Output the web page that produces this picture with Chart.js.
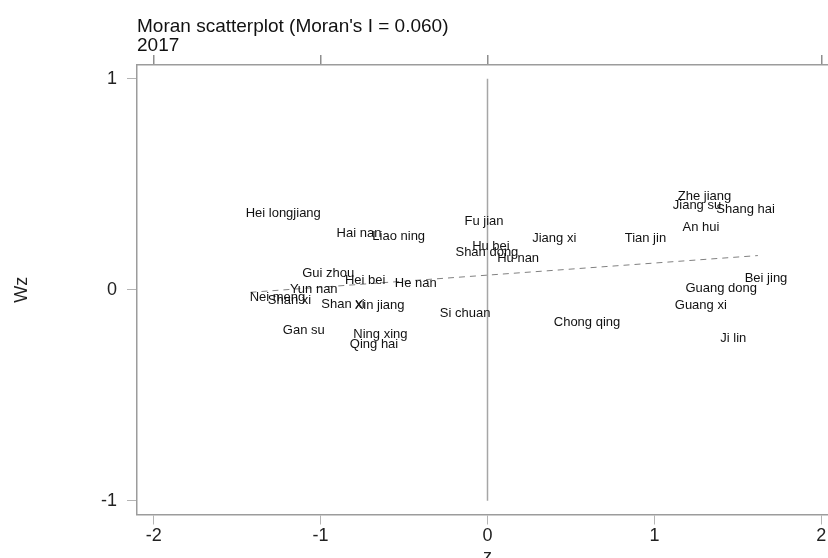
<!DOCTYPE html>
<html>
<head>
<meta charset="utf-8">
<script src="https://cdn.jsdelivr.net/npm/chart.js@4/dist/chart.umd.min.js"></script>
<style>
  html, body { margin: 0; padding: 0; background: #fff; }
  #wrap { width: 828px; height: 558px; overflow: hidden; position: relative; }
  canvas { display: block; }
</style>
</head>
<body>
<div id="wrap"><canvas id="c" width="840" height="575"></canvas></div>
<script>
// ---- data ----
const provinces = [
  "Hei longjiang", "Hai nan", "Liao ning", "Gui zhou", "Hei bei", "He nan",
  "Yun nan", "Nei meng", "Shan xi", "Shan xi", "Xin jiang", "Gan su",
  "Ning xing", "Qing hai", "Si chuan", "Fu jian", "Hu bei", "Shan dong",
  "Hu nan", "Jiang xi", "Tian jin", "Chong qing", "Zhe jiang", "Jiang su",
  "Shang hai", "An hui", "Bei jing", "Guang dong", "Guang xi", "Ji lin"
];
const zValues = [
  -1.449, -0.904, -0.690, -1.110, -0.854, -0.555,
  -1.184, -1.425, -1.316, -0.996, -0.796, -1.226,
  -0.804, -0.825, -0.286, -0.138, -0.092, -0.192,
   0.058,  0.268,  0.822,  0.397,  1.140,  1.110,
   1.371,  1.169,  1.541,  1.186,  1.122,  1.395
];
const wzValues = [
   0.362,  0.267,  0.252,  0.076,  0.044,  0.032,
   0.003, -0.035, -0.052, -0.071, -0.075, -0.195,
  -0.210, -0.257, -0.111,  0.322,  0.206,  0.178,
   0.148,  0.241,  0.241, -0.156,  0.441,  0.400,
   0.381,  0.294,  0.052,  0.005, -0.076, -0.230
];
const fitLineZ = [-1.42, 1.62];
const fitLineWz = [-0.012, 0.162];
const refLineZ = [0, 0];
const refLineWz = [-1, 1];
const xTickValues = [-2, -1, 0, 1, 2];
const yTickValues = [-1, 0, 1];
const topHiddenTicks = [1];
const titleLines = ["Moran scatterplot (Moran's I = 0.060)", "2017"];
const xTitle = "z";
const yTitle = "Wz";

// ---- chart ----
const FONT = "'Liberation Sans', Arial, Helvetica, sans-serif";
const toPts = (xs, ys) => xs.map((x, i) => ({ x: x, y: ys[i] }));

const labelPlugin = {
  id: 'pointLabels',
  afterDatasetsDraw(chart) {
    const meta = chart.getDatasetMeta(0);
    const ctx = chart.ctx;
    ctx.save();
    ctx.font = "13px " + FONT;
    ctx.fillStyle = '#111';
    ctx.textAlign = 'left';
    ctx.textBaseline = 'middle';
    meta.data.forEach((el, i) => {
      ctx.fillText(provinces[i], el.x, el.y);
    });
    ctx.restore();
  }
};

const frameColor = '#9c9c9c';
const tickColor = '#b4b4b4';

new Chart(document.getElementById('c'), {
  type: 'scatter',
  data: {
    datasets: [
      {
        label: 'provinces',
        data: toPts(zValues, wzValues),
        pointRadius: 0,
        pointHoverRadius: 0,
        showLine: false
      },
      {
        label: 'fit',
        data: toPts(fitLineZ, fitLineWz),
        showLine: true,
        pointRadius: 0,
        borderColor: '#808080',
        borderWidth: 1,
        borderDash: [6, 5]
      },
      {
        label: 'zero',
        data: toPts(refLineZ, refLineWz),
        showLine: true,
        pointRadius: 0,
        borderColor: '#a6a6a6',
        borderWidth: 1.5
      }
    ]
  },
  options: {
    responsive: false,
    animation: false,
    events: [],
    layout: { padding: { left: 0, right: 2, top: 0, bottom: 0 } },
    plugins: {
      legend: { display: false },
      tooltip: { enabled: false },
      title: {
        display: true,
        text: titleLines,
        align: 'start',
        fullSize: false,
        color: '#111',
        font: { family: FONT, size: 19, weight: 'normal', lineHeight: 1.0 },
        padding: { top: 17, bottom: 0 }
      }
    },
    scales: {
      x: {
        type: 'linear',
        position: 'bottom',
        min: -2.1,
        max: 2.1,
        afterBuildTicks(scale) { scale.ticks = xTickValues.map(v => ({ value: v })); },
        ticks: {
          color: '#222',
          font: { family: FONT, size: 18 },
          padding: 1,
          maxRotation: 0,
          callback: v => String(v)
        },
        grid: { drawOnChartArea: false, drawTicks: true, tickLength: 10, color: tickColor, lineWidth: 1 },
        border: { display: true, color: frameColor, width: 1.5 },
        title: {
          display: true,
          text: xTitle,
          color: '#222',
          font: { family: FONT, size: 18 },
          padding: { top: 0, bottom: 7 }
        },
        afterFit(scale) { scale.height = 60.5; }
      },
      x2: {
        type: 'linear',
        position: 'top',
        min: -2.1,
        max: 2.1,
        afterBuildTicks(scale) { scale.ticks = xTickValues.map(v => ({ value: v })); },
        ticks: { display: false },
        grid: {
          drawOnChartArea: false,
          drawTicks: true,
          tickLength: 10,
          color: ctx => (ctx.tick && topHiddenTicks.includes(ctx.tick.value)) ? 'rgba(0,0,0,0)' : '#8e8e8e',
          lineWidth: 1.5
        },
        border: { display: true, color: frameColor, width: 1.5 },
        afterFit(scale) { scale.height = 10; }
      },
      y: {
        type: 'linear',
        position: 'left',
        min: -1.065,
        max: 1.065,
        afterBuildTicks(scale) { scale.ticks = yTickValues.map(v => ({ value: v })); },
        ticks: {
          color: '#222',
          font: { family: FONT, size: 18 },
          padding: 10,
          callback: v => String(v)
        },
        grid: { drawOnChartArea: false, drawTicks: true, tickLength: 10, color: tickColor, lineWidth: 1 },
        border: { display: true, color: frameColor, width: 1.5 },
        title: {
          display: true,
          text: yTitle,
          color: '#222',
          font: { family: FONT, size: 18 },
          padding: { top: 11, bottom: 0 }
        },
        afterFit(scale) { scale.width = 137; }
      }
    }
  },
  plugins: [labelPlugin]
});
</script>
</body>
</html>
